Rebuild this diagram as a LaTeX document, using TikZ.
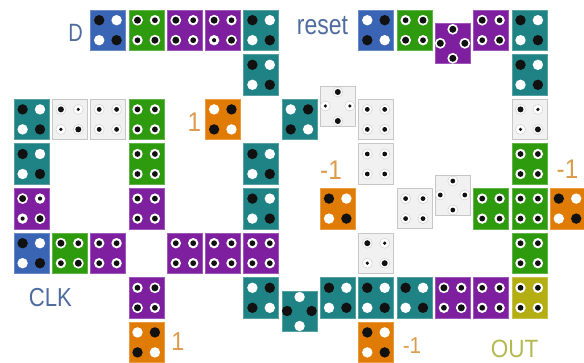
\documentclass[tikz,border=0pt]{standalone}
\usepackage{fontspec}
\setmainfont{Liberation Sans}
\definecolor{cblue}{HTML}{3A64B4}
\definecolor{cgreen}{HTML}{2E9A0E}
\definecolor{cpurple}{HTML}{7E1FA0}
\definecolor{cteal}{HTML}{1F8284}
\definecolor{corange}{HTML}{E07C05}
\definecolor{colive}{HTML}{B4AE12}
\definecolor{cwhite}{HTML}{F1F1F1}
\definecolor{lblue}{HTML}{4F6C9E}
\definecolor{lorange}{HTML}{DC9C50}
\definecolor{lolive}{HTML}{B5B84F}
\definecolor{ink}{HTML}{111111}
\tikzset{
  tile/.style={rectangle,anchor=north west,minimum width=35pt,minimum height=40.5pt,inner sep=0pt,outer sep=0pt,fill=#1,draw=#1!75!white,line width=0.7pt},
  ghost/.style={rectangle,anchor=north west,minimum width=35pt,minimum height=40.5pt,inner sep=0pt,outer sep=0pt,fill=cwhite,draw=black!22,line width=0.8pt},
  lab/.style={inner sep=0pt,text=#1}
}
\newcommand\holedot[4]{%
  \fill[white] (#1,#2) circle (#3pt);
  \fill[ink] (#1,#2) circle (#4pt);}
\newcommand\holeK[2]{\fill[ink] (#1,#2) circle (5.2pt);}
\newcommand\holeW[2]{\fill[white] (#1,#2) circle (5.2pt);}
\newcommand\holeb[2]{\holedot{#1}{#2}{5.4}{3.5}}
\newcommand\holem[2]{\holedot{#1}{#2}{5.2}{2.9}}
\newcommand\holes[2]{\holedot{#1}{#2}{5.2}{2.1}}
\newcommand\ghosthole[3]{%
  \filldraw[fill=white,draw=black!18,line width=0.5pt] (#1,#2) circle (5pt);
  \fill[ink] (#1,#2) circle (#3pt);}
\newcommand\holeB[2]{\ghosthole{#1}{#2}{3}}
\newcommand\holeM[2]{\ghosthole{#1}{#2}{2.4}}
\newcommand\holeS[2]{\ghosthole{#1}{#2}{1.8}}
\newcommand\putdot[3]{\csname hole#3\endcsname{#1}{#2}}
% name col row style tl tr bl br
\newcommand\tile[8]{%
  \pgfmathsetmacro\tx{14+38.3*#2}\pgfmathsetmacro\ty{10+44.6*#3}%
  \node[#4] (#1) at (\tx,\ty) {};
  \pgfmathsetmacro\xa{\tx+8.6}\pgfmathsetmacro\xb{\tx+26}%
  \pgfmathsetmacro\ya{\ty+10.2}\pgfmathsetmacro\yb{\ty+30.2}%
  \putdot{\xa}{\ya}{#5}\putdot{\xb}{\ya}{#6}\putdot{\xa}{\yb}{#7}\putdot{\xb}{\yb}{#8}}
% name x y style top left right bottom
\newcommand\dtile[8]{%
  \node[#4] (#1) at (#2,#3) {};
  \pgfmathsetmacro\xa{#2+5}\pgfmathsetmacro\xm{#2+17.5}\pgfmathsetmacro\xb{#2+29.5}%
  \pgfmathsetmacro\ya{#3+6}\pgfmathsetmacro\ym{#3+20}\pgfmathsetmacro\yb{#3+35}%
  \putdot{\xm}{\ya}{#5}\putdot{\xa}{\ym}{#6}\putdot{\xb}{\ym}{#7}\putdot{\xm}{\yb}{#8}}
\newcommand\condensed[3]{\scalebox{#1}[1]{\fontsize{#2}{#2}\selectfont #3}}
\begin{document}
\begin{tikzpicture}[x=1pt,y=-1pt]
\useasboundingbox (0,0) rectangle (584,363);
% row 0
\tile{a2}{2}{0}{tile=cblue}{K}{W}{W}{K}
\tile{a3}{3}{0}{tile=cgreen}{b}{m}{m}{b}
\tile{a4}{4}{0}{tile=cpurple}{b}{m}{b}{m}
\tile{a5}{5}{0}{tile=cpurple}{b}{m}{s}{b}
\tile{a6}{6}{0}{tile=cteal}{K}{W}{W}{K}
\tile{a9}{9}{0}{tile=cblue}{W}{K}{K}{W}
\tile{a10}{10}{0}{tile=cgreen}{m}{b}{b}{m}
\dtile{a11}{435.3}{23.3}{tile=cpurple}{b}{b}{b}{b}
\tile{a12}{12}{0}{tile=cpurple}{b}{m}{m}{b}
\tile{a13}{13}{0}{tile=cteal}{K}{W}{W}{K}
% row 1
\tile{b6}{6}{1}{tile=cteal}{K}{W}{W}{K}
\tile{b13}{13}{1}{tile=cteal}{K}{W}{W}{K}
% row 2
\tile{c0}{0}{2}{tile=cteal}{K}{W}{W}{K}
\tile{c1}{1}{2}{ghost}{B}{S}{S}{B}
\tile{c2}{2}{2}{ghost}{M}{M}{M}{M}
\tile{c3}{3}{2}{tile=cgreen}{m}{m}{m}{m}
\tile{c5}{5}{2}{tile=corange}{W}{K}{K}{W}
\tile{c7}{7}{2}{tile=cteal}{W}{K}{K}{W}
\dtile{c8}{320.3}{86}{ghost}{B}{S}{S}{B}
\tile{c9}{9}{2}{ghost}{M}{M}{M}{M}
\tile{c13}{13}{2}{ghost}{B}{S}{S}{B}
% row 3
\tile{d0}{0}{3}{tile=cteal}{K}{W}{W}{K}
\tile{d3}{3}{3}{tile=cgreen}{m}{m}{m}{m}
\tile{d6}{6}{3}{tile=cteal}{K}{W}{W}{K}
\tile{d9}{9}{3}{ghost}{M}{M}{M}{M}
\tile{d13}{13}{3}{tile=cgreen}{m}{m}{m}{m}
% row 4
\tile{e0}{0}{4}{tile=cpurple}{b}{s}{s}{b}
\tile{e3}{3}{4}{tile=cpurple}{m}{m}{m}{m}
\tile{e6}{6}{4}{tile=cteal}{K}{W}{W}{K}
\tile{e8}{8}{4}{tile=corange}{K}{W}{W}{K}
\tile{e10}{10}{4}{ghost}{M}{M}{M}{M}
\dtile{e11}{435.3}{175}{ghost}{M}{M}{M}{M}
\tile{e12}{12}{4}{tile=cgreen}{m}{m}{m}{m}
\tile{e13}{13}{4}{tile=cgreen}{m}{m}{m}{m}
\tile{e14}{14}{4}{tile=corange}{K}{W}{W}{K}
% row 5
\tile{f0}{0}{5}{tile=cblue}{K}{W}{W}{K}
\tile{f1}{1}{5}{tile=cgreen}{b}{m}{m}{b}
\tile{f2}{2}{5}{tile=cpurple}{m}{m}{m}{m}
\tile{f4}{4}{5}{tile=cpurple}{m}{m}{m}{m}
\tile{f5}{5}{5}{tile=cpurple}{m}{m}{m}{m}
\tile{f6}{6}{5}{tile=cpurple}{m}{m}{m}{m}
\tile{f9}{9}{5}{ghost}{B}{S}{S}{B}
\tile{f13}{13}{5}{tile=cgreen}{m}{m}{m}{m}
% row 6
\tile{g3}{3}{6}{tile=cpurple}{m}{b}{b}{m}
\tile{g6}{6}{6}{tile=cteal}{W}{K}{K}{W}
\dtile{g7}{282.1}{291}{tile=cteal}{W}{K}{K}{W}
\tile{g8}{8}{6}{tile=cteal}{K}{W}{W}{K}
\tile{g9}{9}{6}{tile=cteal}{K}{W}{W}{K}
\tile{g10}{10}{6}{tile=cteal}{K}{W}{W}{K}
\tile{g11}{11}{6}{tile=cpurple}{b}{m}{m}{b}
\tile{g12}{12}{6}{tile=cpurple}{m}{m}{m}{m}
\tile{g13}{13}{6}{tile=colive}{m}{m}{m}{m}
% row 7
\tile{h3}{3}{7}{tile=corange}{W}{K}{K}{W}
\tile{h9}{9}{7}{tile=corange}{K}{W}{W}{K}
% labels
\node[lab=lblue] (lD) at (75.5,32.5) {\condensed{0.8}{25}{D}};
\node[lab=lblue] (lreset) at (322.5,26) {\condensed{0.82}{28}{reset}};
\node[lab=lblue] (lclk) at (50.3,298) {\condensed{0.85}{26}{CLK}};
\node[lab=lorange] (l1a) at (194.5,122) {\condensed{0.9}{27}{1}};
\node[lab=lorange] (lm1a) at (331,170) {\condensed{0.9}{27}{-1}};
\node[lab=lorange] (lm1b) at (567.5,169) {\condensed{0.9}{27}{-1}};
\node[lab=lorange] (l1b) at (178,342) {\condensed{0.9}{26}{1}};
\node[lab=lorange] (lm1c) at (412,346) {\condensed{0.9}{23}{-1}};
\node[lab=lolive] (lout) at (514.5,348.5) {\condensed{0.9}{25}{OUT}};
\end{tikzpicture}
\end{document}
